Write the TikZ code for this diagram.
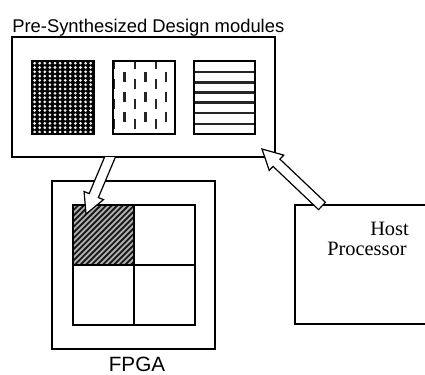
\documentclass[tikz,border=0pt]{standalone}
\usepackage{fontspec}
\setmainfont{Liberation Serif}
\newfontfamily\arialfont{Liberation Sans}
\usetikzlibrary{calc,fit}
\tikzset{
  frame/.style={draw, line width=1.1pt, inner sep=0pt},
  cell/.style={draw, line width=0.9pt, inner sep=0pt},
  blockarr/.style={fill=white, draw, line width=0.9pt, line join=miter},
  sanslabel/.style={font=\arialfont\fontsize{13.8}{16}\selectfont, inner sep=0pt},
}
\newcommand\blockarrow[2]{%
  \coordinate (#1#2b) at ($(#2)!15pt!(#1)$);
  \filldraw[blockarr]
    ($(#1)!3.75pt!90:(#2)$) -- ($(#1#2b)!3.75pt!90:(#2)$) --
    ($(#1#2b)!7.9pt!90:(#2)$) -- (#2) --
    ($(#1#2b)!7.9pt!-90:(#2)$) -- ($(#1#2b)!3.75pt!-90:(#2)$) --
    ($(#1)!3.75pt!-90:(#2)$) -- cycle;
}
\begin{document}
\begin{tikzpicture}[x=0.75pt, y=-0.75pt]
\useasboundingbox (0,0) rectangle (425,375);

% title
\node[sanslabel, anchor=base west] (title) at (12,32) {Pre-Synthesized Design modules};

% modules box
\node[fit={(12,37) (275,157)}, frame] (mods) {};

% module 1: dots
\fill[black] (32,61) rectangle (94,134);
\begin{scope}
  \clip (32,61) rectangle (94,134);
  \foreach \i in {0,...,11}
    \foreach \j in {0,...,16}
      \fill[black!5] ({34.6+\i*5.1},{63.2+\j*4.3}) circle (1.15pt);
\end{scope}
\node[fit={(32,61) (94,134)}, cell] (m1) {};

% module 2: vertical dashes
\begin{scope}
  \clip (113,61) rectangle (175,134);
  \foreach \x in {114,135,156}
    \foreach \y in {64,84,104,124}
      \draw[line width=1.6pt, black!85] (\x,\y-5) -- (\x,\y+5);
  \foreach \x in {124.5,145.5,166}
    \foreach \y in {77,97,117}
      \draw[line width=1.6pt, black!85] (\x,\y-5) -- (\x,\y+5);
\end{scope}
\node[fit={(113,61) (175,134)}, cell] (m2) {};

% module 3: horizontal stripes
\foreach \y in {72,82.5,92.5,102.5,113,124}
  \draw[line width=2pt, black!85] (194,\y) -- (255,\y);
\node[fit={(194,61) (255,134)}, cell] (m3) {};

% FPGA
\node[fit={(52,181) (215,349)}, frame] (fpga) {};
\fill[black!30] (73,205) rectangle (134,265);
\begin{scope}
  \clip (73,205) rectangle (134,265);
  \foreach \k in {0,...,22}
    \draw[line width=1.4pt, black!90] ({13+\k*5.6},265) -- ({73+\k*5.6},205);
\end{scope}
\node[fit={(73,205) (195,325)}, cell] (grid) {};
\draw[line width=0.9pt] (grid.north) -- (grid.south);
\draw[line width=0.9pt] (grid.west) -- (grid.east);
\node[sanslabel, font=\arialfont\fontsize{15.5}{18}\selectfont, anchor=base] (fpgalabel) at (137,371) {FPGA};

% Host processor
\node[fit={(295,205) (445,324)}, frame] (host) {};
\node[inner sep=0pt, font=\fontsize{15.3}{18}\selectfont, anchor=base west] (hostA) at (370,235) {Host};
\node[inner sep=0pt, font=\fontsize{15.3}{18}\selectfont, anchor=base west] (hostB) at (327,255) {Processor};

% arrows
\coordinate (ta) at (113,150);
\coordinate (ha) at (86,214);
\begin{scope}
  \clip (0,157.6) rectangle (425,375);
  \blockarrow{ta}{ha}
\end{scope}
\coordinate (tb) at (322,206);
\coordinate (hb) at (262,149);
\blockarrow{tb}{hb}
\end{tikzpicture}
\end{document}
